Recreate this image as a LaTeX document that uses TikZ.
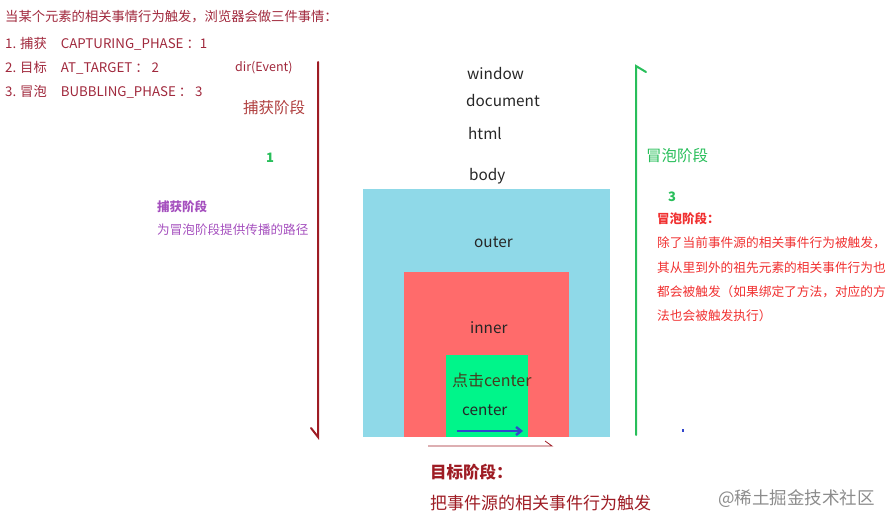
\documentclass[tikz,border=0pt]{standalone}
\usepackage{fontspec}
\setmainfont{Noto Sans CJK SC}
\usetikzlibrary{arrows.meta}
\definecolor{hdr}{RGB}{160,40,60}
\definecolor{darr}{RGB}{158,28,36}
\definecolor{capt}{RGB}{176,64,64}
\definecolor{grn}{RGB}{40,190,90}
\definecolor{purp}{RGB}{165,80,190}
\definecolor{rtxt}{RGB}{240,48,48}
\definecolor{outerc}{RGB}{143,217,232}
\definecolor{innerc}{RGB}{255,107,107}
\definecolor{centerc}{RGB}{0,245,138}
\definecolor{blu}{RGB}{50,70,205}
\definecolor{clk}{RGB}{70,60,30}
\tikzset{
  txt/.style={anchor=west,inner sep=0pt,font=\fontsize{13.3}{15}\selectfont},
  big/.style={anchor=west,inner sep=0pt,font=\fontsize{15.5}{18}\selectfont},
  lbl/.style={anchor=west,inner sep=0pt,font=\fontsize{15.3}{18}\selectfont,text=black!85}
}
\begin{document}
\begin{tikzpicture}[x=1pt,y=-1pt]
\useasboundingbox (0,0) rectangle (896,529);
% header
\node[txt,text=hdr] (h0) at (5,17) {当某个元素的相关事情行为触发，浏览器会做三件事情：};
\node[txt,text=hdr] (h1) at (5,44) {1. 捕获\hspace{14pt}CAPTURING\_PHASE ：1};
\node[txt,text=hdr] (h2) at (5,68) {2. 目标\hspace{14pt}AT\_TARGET ： 2};
\node[txt,text=hdr] (h3) at (5,92) {3. 冒泡\hspace{14pt}BUBBLING\_PHASE ： 3};
\node[txt,text=hdr,font=\fontsize{12.5}{15}\selectfont] (dir) at (235,68) {dir(Event)};
% capture side
\node[big,text=capt] (capl) at (243,108) {捕获阶段};
\node[txt,text=grn,font=\bfseries\fontsize{13}{15}\selectfont] (one) at (266,158) {1};
\node[txt,text=purp,font=\bfseries\fontsize{12.5}{14}\selectfont] (capt) at (157,207) {捕获阶段};
\node[txt,text=purp,font=\fontsize{12.6}{14}\selectfont] (capd) at (157,230) {为冒泡阶段提供传播的路径};
% boxes
\fill[outerc] (363,189) rectangle (610,437);
\fill[innerc] (404,272) rectangle (569,437);
\fill[centerc] (446,355) rectangle (528,437);
% labels in stack
\node[lbl] (win) at (467,74) {window};
\node[lbl] (doc) at (466,101) {document};
\node[lbl] (html) at (468,134) {html};
\node[lbl] (body) at (469,176) {body};
\node[lbl] (outer) at (474,242) {outer};
\node[lbl] (inner) at (470,328) {inner};
\node[lbl,text=clk,font=\fontsize{16}{18}\selectfont] (click) at (452,380) {点击center};
\node[lbl] (center) at (462,410) {center};
% capture arrow
\coordinate (ca) at (318,62);
\coordinate (cb) at (318,437);
\coordinate (cc) at (311,428);
\draw[darr,line width=2pt,line cap=round] (ca) -- (cb) -- (cc);
% bubble line
\coordinate (ba) at (636,435);
\coordinate (bb) at (636,66);
\coordinate (bc) at (646,72);
\draw[grn,line width=2pt,line cap=round] (ba) -- (bb) -- (bc);
\node[big,text=grn] (bubl) at (646,156) {冒泡阶段};
\node[txt,text=grn,font=\bfseries\fontsize{13}{15}\selectfont] (three) at (668,197) {3};
\node[txt,text=rtxt,font=\bfseries\fontsize{12.5}{14}\selectfont] (bubt) at (657,219) {冒泡阶段：};
\node[txt,text=rtxt,font=\fontsize{12.7}{14}\selectfont] (bd1) at (657,243) {除了当前事件源的相关事件行为被触发，};
\node[txt,text=rtxt,font=\fontsize{12.7}{14}\selectfont] (bd2) at (657,268) {其从里到外的祖先元素的相关事件行为也};
\node[txt,text=rtxt,font=\fontsize{12.7}{14}\selectfont] (bd3) at (657,292) {都会被触发（如果绑定了方法，对应的方};
\node[txt,text=rtxt,font=\fontsize{12.7}{14}\selectfont] (bd4) at (657,316) {法也会被触发执行）};
% blue arrow in center
\coordinate (ua) at (457,431);
\coordinate (ub) at (523,431);
\draw[blu,line width=2.4pt,-{Straight Barb[length=5pt,width=8pt]}] (ua) -- (ub);
% target line
\coordinate (ta) at (428,446);
\coordinate (tb) at (552,446);
\coordinate (tc) at (545,441);
\draw[darr,line width=0.8pt] (ta) -- (tb) -- (tc);
% dot
\fill[blu] (682,429) rectangle (684,432);
% target text
\node[big,text=darr,font=\bfseries\fontsize{16.5}{18}\selectfont] (tgt) at (430,472) {目标阶段：};
\node[big,text=darr,font=\fontsize{17}{19}\selectfont] (tgd) at (430,503) {把事件源的相关事件行为触发};
% watermark
\node[txt,text=black!45,font=\fontsize{17.5}{19}\selectfont] (wm) at (718,499) {@稀土掘金技术社区};
\end{tikzpicture}
\end{document}
